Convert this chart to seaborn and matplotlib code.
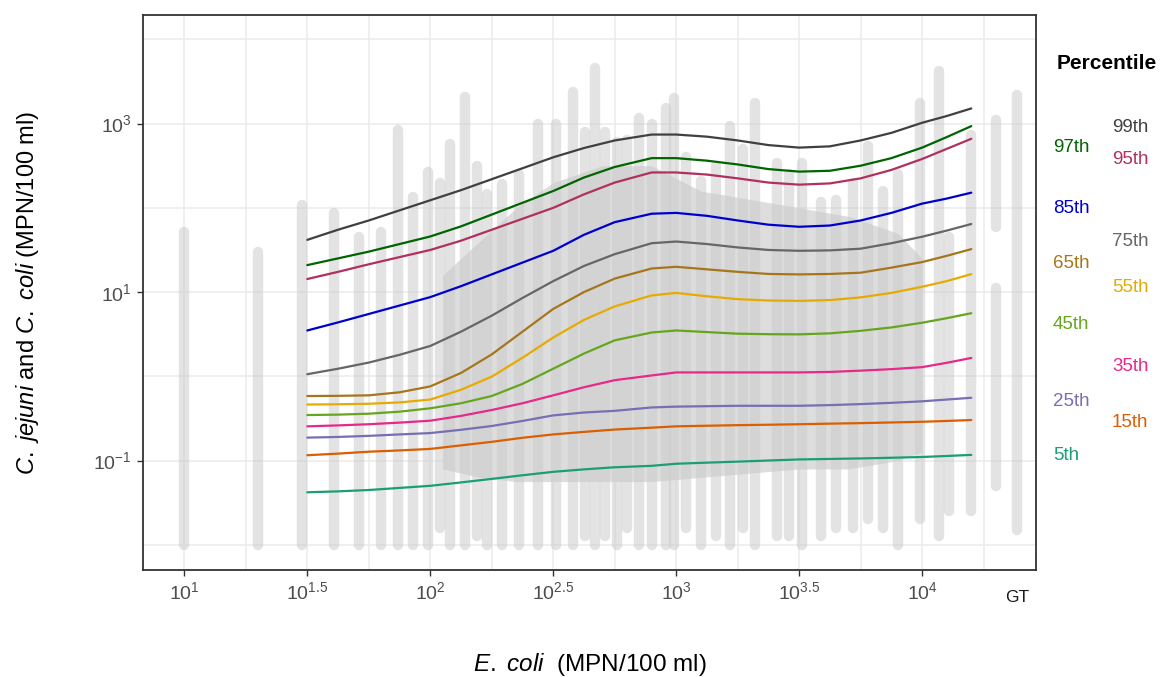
import numpy as np
import pandas as pd
import matplotlib
matplotlib.use('Agg')
import matplotlib.pyplot as plt
import matplotlib.transforms as mtransforms
from matplotlib.ticker import NullFormatter
import seaborn as sns

# percentile curves, log10(C. jejuni + C. coli)
x_log = [1.5, 1.625, 1.75, 1.875, 2.0, 2.125, 2.25, 2.375, 2.5, 2.625, 2.75, 2.9,
         3.0, 3.125, 3.25, 3.375, 3.5, 3.625, 3.75, 3.875, 4.0, 4.1, 4.2]
p99 = [1.62, 1.74, 1.85, 1.97, 2.09, 2.21, 2.34, 2.47, 2.60, 2.71, 2.80, 2.87,
       2.87, 2.845, 2.80, 2.745, 2.715, 2.73, 2.80, 2.89, 3.01, 3.09, 3.18]
p97 = [1.32, 1.40, 1.48, 1.57, 1.66, 1.78, 1.92, 2.06, 2.20, 2.36, 2.485, 2.59,
       2.59, 2.56, 2.515, 2.46, 2.43, 2.44, 2.50, 2.59, 2.715, 2.84, 2.97]
p95 = [1.155, 1.24, 1.33, 1.415, 1.50, 1.61, 1.74, 1.87, 2.00, 2.16, 2.30, 2.42,
       2.42, 2.395, 2.35, 2.30, 2.275, 2.29, 2.35, 2.45, 2.58, 2.70, 2.82]
p85 = [0.544, 0.64, 0.74, 0.84, 0.94, 1.07, 1.21, 1.35, 1.49, 1.68, 1.83, 1.93,
       1.94, 1.905, 1.85, 1.80, 1.775, 1.79, 1.85, 1.94, 2.05, 2.11, 2.18]
p75 = [0.025, 0.09, 0.163, 0.255, 0.36, 0.53, 0.72, 0.93, 1.13, 1.31, 1.45, 1.58,
       1.60, 1.57, 1.53, 1.50, 1.49, 1.495, 1.515, 1.58, 1.657, 1.73, 1.808]
p65 = [-0.234, -0.232, -0.226, -0.19, -0.12, 0.04, 0.26, 0.53, 0.80, 1.00, 1.16, 1.28,
       1.30, 1.27, 1.24, 1.215, 1.21, 1.215, 1.23, 1.29, 1.356, 1.43, 1.51]
p55 = [-0.335, -0.332, -0.326, -0.31, -0.276, -0.16, -0.004, 0.22, 0.46, 0.67, 0.83, 0.96,
       0.99, 0.95, 0.916, 0.90, 0.895, 0.905, 0.937, 0.99, 1.063, 1.13, 1.213]
p45 = [-0.46, -0.455, -0.444, -0.42, -0.38, -0.32, -0.234, -0.09, 0.09, 0.27, 0.427, 0.52,
       0.544, 0.525, 0.506, 0.50, 0.498, 0.51, 0.54, 0.58, 0.636, 0.69, 0.749]
p35 = [-0.594, -0.583, -0.569, -0.55, -0.527, -0.47, -0.40, -0.32, -0.226, -0.13, -0.046, 0.01,
       0.046, 0.046, 0.046, 0.046, 0.046, 0.052, 0.067, 0.085, 0.109, 0.16, 0.218]
p25 = [-0.728, -0.72, -0.707, -0.69, -0.674, -0.635, -0.59, -0.53, -0.464, -0.43, -0.41, -0.37,
       -0.36, -0.355, -0.35, -0.35, -0.35, -0.342, -0.33, -0.315, -0.297, -0.276, -0.255]
p15 = [-0.937, -0.918, -0.895, -0.88, -0.862, -0.82, -0.778, -0.73, -0.69, -0.66, -0.632, -0.61,
       -0.594, -0.587, -0.58, -0.575, -0.569, -0.562, -0.556, -0.548, -0.54, -0.53, -0.519]
p5 = [-1.377, -1.366, -1.35, -1.325, -1.30, -1.26, -1.218, -1.175, -1.134, -1.105, -1.08, -1.063,
      -1.038, -1.025, -1.013, -1.0, -0.987, -0.981, -0.975, -0.967, -0.958, -0.946, -0.933]

pct_names = ['99th', '97th', '95th', '85th', '75th', '65th', '55th', '45th', '35th', '25th', '15th', '5th']
pct_values = [p99, p97, p95, p85, p75, p65, p55, p45, p35, p25, p15, p5]
pct_colors = ['#404040', '#006400', '#B03060', '#0000CD', '#666666', '#A6761D',
              '#E6AB02', '#66A61E', '#E7298A', '#7570B3', '#D95F02', '#1B9E77']

# observed samples: columns of points at each E. coli MPN value (log10 x, log10 low, log10 high)
col_x = [1.00, 1.30, 1.48, 1.61, 1.71, 1.80, 1.87, 1.93, 1.99, 2.04, 2.08, 2.14, 2.19, 2.23,
         2.29, 2.36, 2.44, 2.51, 2.58, 2.63, 2.67, 2.71, 2.76, 2.80, 2.85, 2.90, 2.96, 2.99,
         3.04, 3.10, 3.16, 3.22, 3.27, 3.32, 3.41, 3.46, 3.51, 3.59, 3.65, 3.72, 3.78, 3.84,
         3.90, 3.99, 4.07, 4.11, 4.20, 4.30, 4.30, 4.385]
col_lo = [-2.0, -2.0, -2.0, -2.0, -2.0, -2.0, -2.0, -2.0, -2.0, -1.8, -2.0, -2.0, -1.9, -2.0,
          -2.0, -2.0, -2.0, -2.0, -2.0, -1.9, -2.0, -1.9, -2.0, -1.8, -2.0, -2.0, -2.0, -2.0,
          -1.8, -2.0, -1.9, -2.0, -1.8, -2.0, -1.9, -1.9, -2.0, -1.9, -1.8, -1.8, -1.7, -1.8,
          -2.0, -1.7, -1.9, -1.6, -1.6, -1.3, 1.77, -1.82]
col_hi = [1.71, 1.48, 2.03, 1.94, 1.65, 1.71, 2.92, 2.13, 2.42, 2.30, 2.76, 3.32, 2.50, 2.17,
          2.28, 2.40, 2.99, 2.99, 3.38, 2.90, 3.66, 2.90, 2.78, 2.80, 3.07, 3.00, 3.18, 3.30,
          2.60, 2.32, 2.50, 2.97, 2.70, 3.24, 2.53, 2.40, 2.53, 2.07, 2.09, 2.30, 2.74, 2.20,
          2.40, 3.24, 3.62, 1.65, 2.86, 1.05, 3.04, 3.34]

# dense overlapping core of the cloud
core_x = [2.05, 2.2, 2.35, 2.5, 2.7, 2.9, 3.1, 3.3, 3.5, 3.7, 3.9, 4.0]
core_lo = [-1.1, -1.2, -1.25, -1.25, -1.25, -1.25, -1.2, -1.15, -1.1, -1.1, -1.0, -0.9]
core_hi = [1.2, 1.6, 2.0, 2.3, 2.5, 2.5, 2.2, 2.1, 2.0, 1.9, 1.7, 1.4]

# label placement on the right (log10 y) and column
label_logy = [2.958, 2.72, 2.577, 1.994, 1.60, 1.34, 1.054, 0.613, 0.113, -0.304, -0.554, -0.946]
label_col = [1, 0, 1, 0, 1, 0, 1, 0, 1, 0, 1, 0]

rows = []
for name, vals in zip(pct_names, pct_values):
    for xv, yv in zip(x_log, vals):
        rows.append({'ecoli': 10 ** xv, 'campy': 10 ** yv, 'pct': name})
curves = pd.DataFrame(rows)

sns.set_theme(style='white')
plt.rcParams['font.family'] = ['Liberation Sans', 'DejaVu Sans']
plt.rcParams['mathtext.fontset'] = 'custom'
plt.rcParams['mathtext.rm'] = 'Liberation Sans'
plt.rcParams['mathtext.it'] = 'Liberation Sans:italic'
plt.rcParams['mathtext.bf'] = 'Liberation Sans:bold'

fig = plt.figure(figsize=(11.6, 6.77), dpi=100)
ax = fig.add_axes([0.1233, 0.158, 0.7698, 0.8198])
ax.set_xscale('log')
ax.set_yscale('log')

cx = 10 ** np.array(core_x)
ax.fill_between(cx, 10 ** np.array(core_lo), 10 ** np.array(core_hi),
                color='#dddddd', lw=0, zorder=1)
ax.vlines(10 ** np.array(col_x), 10 ** np.array(col_lo), 10 ** np.array(col_hi),
          colors='#cccccc', alpha=0.55, lw=7.5, capstyle='round', zorder=2)

sns.lineplot(data=curves, x='ecoli', y='campy', hue='pct', hue_order=pct_names,
             palette=dict(zip(pct_names, pct_colors)), lw=1.6, legend=False,
             errorbar=None, ax=ax, zorder=3)

ax.set_xlim(10 ** 0.832, 10 ** 4.463)
ax.set_ylim(10 ** -2.30, 10 ** 4.289)

xt = [1, 1.5, 2, 2.5, 3, 3.5, 4]
ax.set_xticks([10 ** v for v in xt])
ax.set_xticklabels([r'$10^{%g}$' % v for v in xt])
ax.set_xticks([10 ** v for v in [1.25, 1.75, 2.25, 2.75, 3.25, 3.75, 4.25]], minor=True)
ax.xaxis.set_minor_formatter(NullFormatter())
yt = [3, 1, -1]
ax.set_yticks([10.0 ** v for v in yt])
ax.set_yticklabels([r'$10^{%g}$' % v if v >= 0 else r'$10^{-1}$' for v in yt])
ax.set_yticks([10.0 ** v for v in [4, 2, 0, -2]], minor=True)
ax.yaxis.set_minor_formatter(NullFormatter())

ax.grid(True, which='both', color='#ebebeb', lw=1.1)
ax.set_axisbelow(True)
ax.tick_params(which='minor', length=0)
ax.tick_params(which='major', length=4, width=1, color='#333333', labelsize=14,
               labelcolor='#4d4d4d', pad=4, bottom=True, left=True)
for s in ax.spines.values():
    s.set_color('#333333')
    s.set_linewidth(1.3)

ax.text(10 ** 4.385, -0.05, 'GT', transform=ax.get_xaxis_transform(), ha='center',
        va='center', fontsize=12.5, color='#1a1a1a', clip_on=False)

ax.set_xlabel(r'$\it{E.\ coli}$  (MPN/100 ml)', fontsize=17.5, color='black')
ax.xaxis.set_label_coords(0.5, -0.171)
ax.xaxis.label.set_va('center')
ax.set_ylabel(r'$\it{C.\ jejuni}$ and $\it{C.\ coli}$ (MPN/100 ml)', fontsize=17, color='black')
ax.yaxis.set_label_coords(-0.129, 0.5)
ax.yaxis.label.set_va('center')

trans = mtransforms.blended_transform_factory(ax.transAxes, ax.transData)
for name, col, ly, c in zip(pct_names, pct_colors, label_logy, label_col):
    ax.text(1.019 if c == 0 else 1.085, 10 ** ly, name, transform=trans, ha='left',
            va='center', fontsize=13.5, color=col, clip_on=False)
ax.text(1.0795, 0.9135, 'Percentile', transform=ax.transAxes, ha='center', va='center',
        fontsize=15, fontweight='bold', color='black', clip_on=False)

fig.savefig('out.png', dpi=100)
